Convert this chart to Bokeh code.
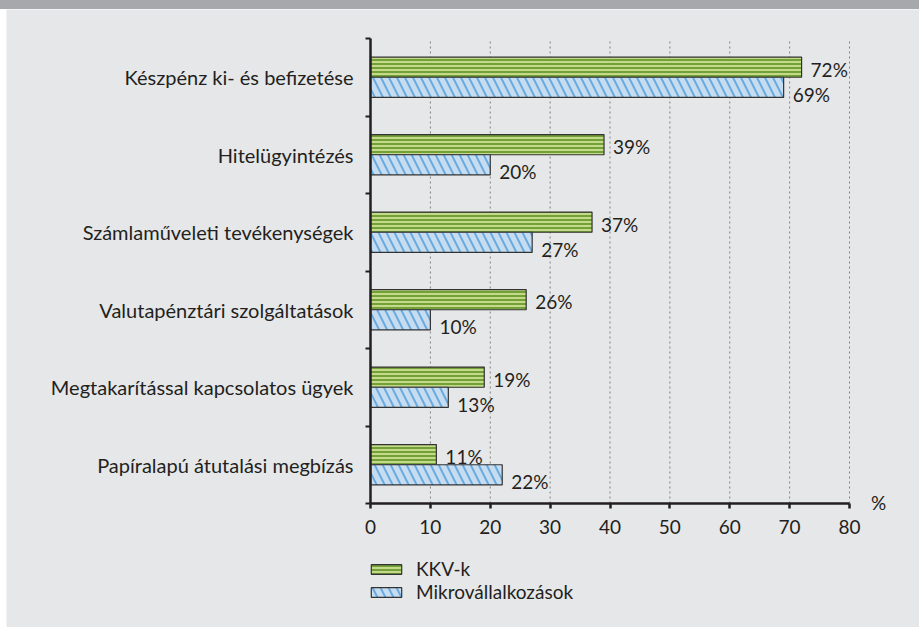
from bokeh.plotting import figure
from bokeh.layouts import column, row
from bokeh.models import Range1d, FixedTicker, Label, Legend, LegendItem, ColumnDataSource, Div
from bokeh.core.properties import value
from bokeh.embed import file_html
from bokeh.resources import INLINE

# ---- data ----
categories = [
    "Készpénz ki- és befizetése",
    "Hitelügyintézés",
    "Számlaműveleti tevékenységek",
    "Valutapénztári szolgáltatások",
    "Megtakarítással kapcsolatos ügyek",
    "Papíralapú átutalási megbízás",
]
kkv = [72, 39, 37, 26, 19, 11]
mikro = [69, 20, 27, 10, 13, 22]
series_names = ["KKV-k", "Mikrovállalkozások"]
x_ticks = [0, 10, 20, 30, 40, 50, 60, 70, 80]
unit_label = "%"

# ---- styles ----
BG = "#e6e7e9"
BAND = "#a7a8ac"
TXT = "#231f20"
GREEN_LIGHT = "#c2da8a"
GREEN_DARK = "#74a038"
BLUE_LIGHT = "#c6dcf1"
BLUE_DARK = "#6aaade"
FONT = "Lato"
FS = "19px"
FS_CAT = "20px"

# ---- geometry (pixels) ----
BAND_H, STRIP_W = 9, 6
W, H = 919 - STRIP_W, 627 - BAND_H
AX_X, AX_TOP = 364, 29       # position of the y axis / top of the axis inside the figure
PX_X = 479 / 80              # pixels per x unit
PX_Y = 77.5                  # pixels per category

n = len(categories)
centers = [n - i - 0.5 for i in range(n)]
bar_h = 0.26

x_start = -AX_X / PX_X
x_end = (W - AX_X) / PX_X
y_end = n + AX_TOP / PX_Y
y_start = n - (H - AX_TOP) / PX_Y

src = ColumnDataSource(dict(
    y_k=[c + bar_h / 2 for c in centers],
    y_m=[c - bar_h / 2 for c in centers],
    kkv=kkv,
    mikro=mikro,
    lab_k=[f"{v}%" for v in kkv],
    lab_m=[f"{v}%" for v in mikro],
))

p = figure(width=W, height=H,
           x_range=Range1d(x_start, x_end), y_range=Range1d(y_start, y_end),
           output_backend="svg", toolbar_location=None,
           min_border_left=0, min_border_right=0,
           min_border_top=0, min_border_bottom=0,
           background_fill_color=BG, border_fill_color=BG,
           outline_line_color=None)

# grid (dotted verticals between the axis and the top)
p.xgrid.visible = False
p.ygrid.visible = False
p.segment(x0=x_ticks[1:], x1=x_ticks[1:], y0=[0] * (len(x_ticks) - 1),
          y1=[n] * (len(x_ticks) - 1), line_color="#808080",
          line_dash="2 3", line_width=1)

# x axis at y=0
p.xaxis.fixed_location = 0
p.xaxis.bounds = (x_ticks[0], x_ticks[-1])
p.xaxis.ticker = FixedTicker(ticks=x_ticks)
p.xaxis.axis_line_color = TXT
p.xaxis.axis_line_width = 2.5
p.xaxis.major_tick_line_color = TXT
p.xaxis.major_tick_line_width = 2.5
p.xaxis.major_tick_out = 5
p.xaxis.major_tick_in = 0
p.xaxis.minor_tick_line_color = None
p.xaxis.major_label_standoff = 11
p.xaxis.major_label_text_font = FONT
p.xaxis.major_label_text_font_size = FS
p.xaxis.major_label_text_color = TXT

# y axis at x=0
p.yaxis.fixed_location = 0
p.yaxis.bounds = (0, n)
p.yaxis.ticker = FixedTicker(ticks=centers, minor_ticks=list(range(n + 1)))
p.yaxis.major_label_overrides = {c: name for c, name in zip(centers, categories)}
p.yaxis.axis_line_color = TXT
p.yaxis.axis_line_width = 2.5
p.yaxis.major_tick_line_color = None
p.yaxis.major_tick_out = 5
p.yaxis.major_tick_in = 0
p.yaxis.minor_tick_line_color = TXT
p.yaxis.minor_tick_line_width = 2
p.yaxis.minor_tick_out = 5
p.yaxis.minor_tick_in = 0
p.yaxis.major_label_standoff = 12
p.yaxis.major_label_text_font = FONT
p.yaxis.major_label_text_font_size = FS_CAT
p.yaxis.major_label_text_color = TXT

# bars
rk = p.hbar(y="y_k", left=0, right="kkv", height=bar_h, source=src,
            fill_color=GREEN_LIGHT, hatch_pattern="horizontal_line",
            hatch_color=GREEN_DARK, hatch_scale=4, hatch_weight=2,
            line_color="#333333", line_width=1.2)
rm = p.hbar(y="y_m", left=0, right="mikro", height=bar_h, source=src,
            fill_color=BLUE_LIGHT, hatch_pattern="left_diagonal_line",
            hatch_color=BLUE_DARK, hatch_scale=16, hatch_weight=2,
            line_color="#333333", line_width=1.2)

# value labels
p.text(x="kkv", y="y_k", text="lab_k", source=src, x_offset=9, y_offset=2,
       text_baseline="middle", text_align="left", text_font=value(FONT),
       text_font_size=FS, text_color=TXT)
p.text(x="mikro", y="y_m", text="lab_m", source=src, x_offset=9, y_offset=7,
       text_baseline="middle", text_align="left", text_font=value(FONT),
       text_font_size=FS, text_color=TXT)

# unit label
p.add_layout(Label(x=x_ticks[-1], y=0, x_offset=29, y_offset=1, text=unit_label,
                   text_align="center", text_baseline="middle",
                   text_font=FONT, text_font_size=FS, text_color=TXT))

# legend
legend = Legend(items=[LegendItem(label=series_names[0], renderers=[rk]),
                       LegendItem(label=series_names[1], renderers=[rm])],
                location=(AX_X - 3, 24), orientation="vertical",
                glyph_width=38, glyph_height=12, label_standoff=11,
                label_height=23, spacing=0, padding=0, margin=0,
                border_line_color=None, background_fill_alpha=0,
                label_text_font=FONT, label_text_font_size=FS,
                label_text_color=TXT)
p.add_layout(legend)

band = Div(text="", width=919, height=BAND_H, margin=0,
           styles={"background-color": BAND})
strip = Div(text="", width=STRIP_W, height=H, margin=0,
            styles={"background-color": "#ffffff"})
layout = column(band, row(strip, p, spacing=0), spacing=0)

open("out.html", "w").write(file_html(layout, INLINE))
